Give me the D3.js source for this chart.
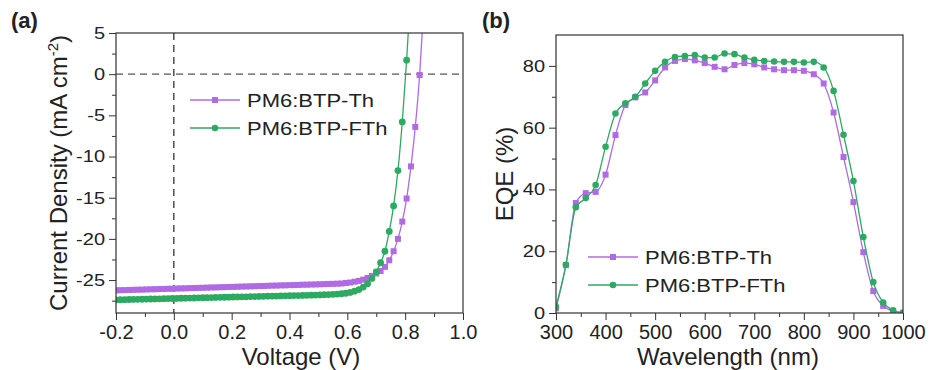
<!DOCTYPE html>
<html>
<head>
    <meta charset="utf-8">
    <title>J-V and EQE</title>
    <script src="https://d3js.org/d3.v7.min.js"></script>
    <style>
        body { margin: 0; background: #fff; }
        svg text { font-family: "Liberation Sans", Arial, sans-serif; fill: #222; }
        .domain { display: none; }
        .tick line { stroke: #333; stroke-width: 1px; }
    </style>
</head>
<body>
    <div id="chart"></div>

    <script>
        // series names
        const seriesNames = ["PM6:BTP-Th", "PM6:BTP-FTh"];
        const seriesColors = ["#b06be4", "#2daa62"];

        // (a) J-V curves
        const voltage = [-0.2, -0.185, -0.17, -0.155, -0.14, -0.125, -0.11, -0.095, -0.08, -0.065,
            -0.05, -0.035, -0.02, -0.005, 0.01, 0.025, 0.04, 0.055, 0.07, 0.085,
            0.1, 0.115, 0.13, 0.145, 0.16, 0.175, 0.19, 0.205, 0.22, 0.235,
            0.25, 0.265, 0.28, 0.295, 0.31, 0.325, 0.34, 0.355, 0.37, 0.385,
            0.4, 0.415, 0.43, 0.445, 0.46, 0.475, 0.49, 0.505, 0.52, 0.535,
            0.55, 0.565, 0.58, 0.595, 0.61, 0.625, 0.64, 0.655, 0.67, 0.685,
            0.7, 0.715, 0.73, 0.745, 0.76, 0.775, 0.79, 0.805, 0.82, 0.835,
            0.85, 0.865];
        const jvTh = [-26.25, -26.23, -26.22, -26.20, -26.19, -26.17, -26.16, -26.14, -26.12, -26.11,
            -26.09, -26.08, -26.06, -26.05, -26.03, -26.01, -26.00, -25.98, -25.97, -25.95,
            -25.94, -25.92, -25.90, -25.89, -25.87, -25.86, -25.84, -25.83, -25.81, -25.79,
            -25.78, -25.76, -25.75, -25.73, -25.72, -25.70, -25.68, -25.67, -25.65, -25.64,
            -25.62, -25.61, -25.59, -25.57, -25.56, -25.54, -25.53, -25.51, -25.49, -25.47,
            -25.46, -25.44, -25.42, -25.35, -25.30, -25.20, -25.10, -24.95, -24.75, -24.50,
            -24.20, -23.90, -23.40, -22.60, -21.50, -20.00, -17.90, -15.10, -11.20, -6.40,
            -0.10, 8.50];
        const jvFTh = [-27.40, -27.39, -27.38, -27.36, -27.35, -27.34, -27.33, -27.31, -27.30, -27.29,
            -27.28, -27.26, -27.25, -27.24, -27.23, -27.21, -27.20, -27.19, -27.18, -27.16,
            -27.15, -27.14, -27.13, -27.11, -27.10, -27.09, -27.08, -27.06, -27.05, -27.04,
            -27.03, -27.01, -27.00, -26.99, -26.98, -26.96, -26.95, -26.94, -26.93, -26.91,
            -26.90, -26.89, -26.88, -26.86, -26.85, -26.84, -26.82, -26.80, -26.78, -26.76,
            -26.73, -26.70, -26.66, -26.60, -26.50, -26.35, -26.15, -25.85, -25.45, -24.80,
            -24.00, -22.90, -21.50, -19.10, -16.00, -11.70, -5.80, 1.70, 10.50];
        const jvXTicks = [-0.2, 0.0, 0.2, 0.4, 0.6, 0.8, 1.0];
        const jvXMinor = [-0.1, 0.1, 0.3, 0.5, 0.7, 0.9];
        const jvYTicks = [5, 0, -5, -10, -15, -20, -25];
        const jvYMinor = [2.5, -2.5, -7.5, -12.5, -17.5, -22.5, -27.5];

        // (b) EQE spectra
        const wavelength = [300, 320, 340, 360, 380, 400, 420, 440, 460, 480,
            500, 520, 540, 560, 580, 600, 620, 640, 660, 680,
            700, 720, 740, 760, 780, 800, 820, 840, 860, 880,
            900, 920, 940, 960, 980, 1000];
        const eqeTh = [1.5, 15.5, 35.6, 38.8, 39.2, 44.8, 57.6, 67.3, 69.8, 71.4,
            75.3, 79.5, 81.6, 82.2, 81.8, 80.9, 79.7, 78.9, 80.3, 80.9,
            80.5, 79.5, 78.9, 78.6, 78.6, 78.4, 77.3, 74.3, 64.9, 50.5,
            35.9, 19.7, 7.1, 2.3, 0.6, 0.1];
        const eqeFTh = [2.0, 15.6, 34.2, 37.2, 41.4, 53.8, 64.6, 67.9, 70.0, 74.3,
            78.4, 81.3, 82.9, 83.2, 83.5, 82.7, 82.7, 84.0, 83.8, 82.7,
            82.0, 81.6, 81.4, 81.3, 81.3, 81.1, 81.3, 79.5, 71.9, 57.7,
            42.7, 24.6, 10.0, 3.4, 0.9, 0.1];
        const eqeXTicks = [300, 400, 500, 600, 700, 800, 900, 1000];
        const eqeXMinor = [350, 450, 550, 650, 750, 850, 950];
        const eqeYTicks = [0, 20, 40, 60, 80];
        const eqeYMinor = [10, 30, 50, 70];

        const svg = d3.select("#chart").append("svg")
            .attr("width", 929)
            .attr("height", 370);

        function drawPanel(p) {
            const g = svg.append("g");
            const x = d3.scaleLinear().domain(p.xDomain).range([p.left, p.right]);
            const y = d3.scaleLinear().domain(p.yDomain).range([p.bottom, p.top]);

            g.append("clipPath").attr("id", p.id + "-clip")
                .append("rect")
                .attr("x", p.left).attr("y", p.top)
                .attr("width", p.right - p.left).attr("height", p.bottom - p.top);

            // ticks
            const xAx = g.append("g").attr("transform", `translate(0,${p.bottom})`)
                .call(d3.axisBottom(x).tickValues(p.xTicks).tickSize(7).tickPadding(5).tickFormat(p.xFormat));
            xAx.selectAll("text").style("font-size", "20px");
            g.append("g").attr("transform", `translate(0,${p.bottom})`)
                .call(d3.axisBottom(x).tickValues(p.xMinor).tickSize(4).tickFormat(""));

            const yAx = g.append("g").attr("transform", `translate(${p.left},0)`)
                .call(d3.axisLeft(y).tickValues(p.yTicks).tickSize(7).tickPadding(4).tickFormat(d => String(d)));
            yAx.selectAll("text").style("font-size", "20px").attr("transform", "scale(1,0.85)");
            g.append("g").attr("transform", `translate(${p.left},0)`)
                .call(d3.axisLeft(y).tickValues(p.yMinor).tickSize(4).tickFormat(""));

            // dashed guide lines
            if (p.guides) {
                g.append("line")
                    .attr("x1", p.left).attr("x2", p.right)
                    .attr("y1", y(0)).attr("y2", y(0))
                    .attr("stroke", "#555").attr("stroke-width", 1.3).attr("stroke-dasharray", "7,5");
                g.append("line")
                    .attr("x1", x(0)).attr("x2", x(0))
                    .attr("y1", p.top).attr("y2", p.bottom)
                    .attr("stroke", "#333").attr("stroke-width", 1.3).attr("stroke-dasharray", "7,5");
            }

            // series
            const plot = g.append("g").attr("clip-path", `url(#${p.id}-clip)`);
            p.series.forEach((s, i) => {
                const pts = s.values.map((v, k) => [p.xs[k], v]);
                const color = seriesColors[i];
                plot.append("path")
                    .datum(pts)
                    .attr("fill", "none")
                    .attr("stroke", color)
                    .attr("stroke-width", 1.3)
                    .attr("d", d3.line().x(d => x(d[0])).y(d => y(d[1])).curve(d3.curveMonotoneX));
                if (i === 0) {
                    plot.selectAll(null).data(pts).enter().append("rect")
                        .attr("x", d => x(d[0]) - p.sq / 2).attr("y", d => y(d[1]) - p.sq / 2)
                        .attr("width", p.sq).attr("height", p.sq)
                        .attr("fill", color);
                } else {
                    plot.selectAll(null).data(pts).enter().append("circle")
                        .attr("cx", d => x(d[0])).attr("cy", d => y(d[1]))
                        .attr("r", p.r)
                        .attr("fill", color);
                }
            });

            // frame
            g.append("rect")
                .attr("x", p.left).attr("y", p.top)
                .attr("width", p.right - p.left).attr("height", p.bottom - p.top)
                .attr("fill", "none").attr("stroke", "#333").attr("stroke-width", 1.2);

            // legend
            seriesNames.forEach((name, i) => {
                const ly = p.legendY + i * 28;
                const color = seriesColors[i];
                g.append("line")
                    .attr("x1", p.legendX).attr("x2", p.legendX + 50)
                    .attr("y1", ly).attr("y2", ly)
                    .attr("stroke", color).attr("stroke-width", 1.3);
                if (i === 0) {
                    g.append("rect").attr("x", p.legendX + 25 - 3).attr("y", ly - 3)
                        .attr("width", 6).attr("height", 6).attr("fill", color);
                } else {
                    g.append("circle").attr("cx", p.legendX + 25).attr("cy", ly)
                        .attr("r", 3.3).attr("fill", color);
                }
                g.append("g").attr("transform", `translate(${p.legendX + 57},${ly + 7}) scale(1,0.85)`)
                    .append("text").style("font-size", "22px").text(name);
            });

            // titles
            g.append("text")
                .attr("x", p.xTitleX).attr("y", 365)
                .attr("text-anchor", "middle")
                .style("font-size", "24px")
                .text(p.xTitle);
            const yt = g.append("text")
                .attr("transform", `translate(${p.yTitleX},${(p.top + p.bottom) / 2}) rotate(-90)`)
                .attr("text-anchor", "middle")
                .style("font-size", "24px")
                .text(p.yTitle);
            if (p.yTitleSup) {
                yt.append("tspan").attr("dy", -9).style("font-size", "15px").text(p.yTitleSup);
                yt.append("tspan").attr("dy", 9).text(")");
            }
            g.append("text")
                .attr("x", p.labelX).attr("y", 28)
                .style("font-size", "22px").style("font-weight", "bold")
                .text(p.label);
        }

        drawPanel({
            id: "jv", label: "(a)", labelX: 11,
            left: 116, right: 463, top: 33, bottom: 313,
            xDomain: [-0.2, 1.0], yDomain: [-29, 5],
            xTicks: jvXTicks, xMinor: jvXMinor, yTicks: jvYTicks, yMinor: jvYMinor,
            xFormat: d => d3.format(".1f")(d).replace("\u2212", "-"),
            xs: voltage,
            series: [{values: jvTh}, {values: jvFTh}],
            sq: 6, r: 3.4,
            guides: true,
            legendX: 190, legendY: 100,
            xTitle: "Voltage (V)", xTitleX: 301,
            yTitle: "Current Density (mA cm", yTitleSup: "-2", yTitleX: 67
        });

        drawPanel({
            id: "eqe", label: "(b)", labelX: 482,
            left: 556, right: 903, top: 35, bottom: 313,
            xDomain: [300, 1000], yDomain: [0, 90],
            xTicks: eqeXTicks, xMinor: eqeXMinor, yTicks: eqeYTicks, yMinor: eqeYMinor,
            xFormat: d3.format("d"),
            xs: wavelength,
            series: [{values: eqeTh}, {values: eqeFTh}],
            sq: 6, r: 3.3,
            guides: false,
            legendX: 588, legendY: 257,
            xTitle: "Wavelength (nm)", xTitleX: 728,
            yTitle: "EQE (%)", yTitleX: 513
        });
    </script>
</body>
</html>
